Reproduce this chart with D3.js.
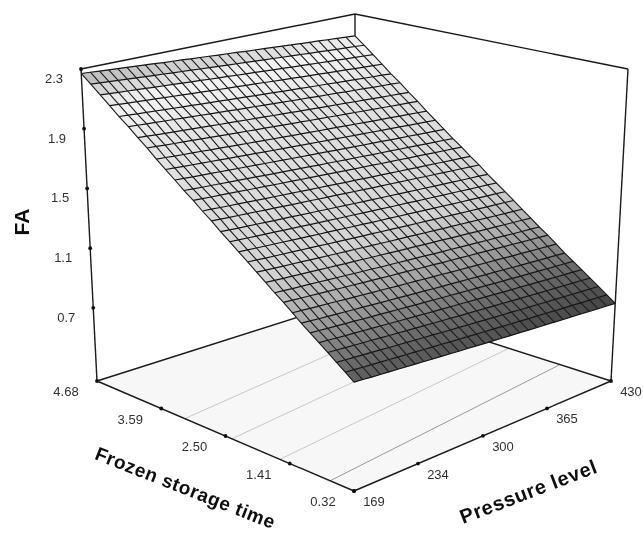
<!DOCTYPE html>
<html>
<head>
<meta charset="utf-8">
<script src="https://cdn.jsdelivr.net/npm/d3@7"></script>
<style>
  html, body { margin: 0; padding: 0; background: #fff; }
  text { font-family: "Liberation Sans", Arial, sans-serif; }
</style>
</head>
<body>
<div id="chart"></div>
<script>
var svgWidth = 643;
var svgHeight = 536;

// tick labels
var faTicks = [0.7, 1.1, 1.5, 1.9, 2.3];
var timeTicks = [4.68, 3.59, 2.50, 1.41, 0.32];
var pressureTicks = [169, 234, 300, 365, 430];

// axis ranges
var faRange = [0.21, 2.3];
var timeRange = [0.32, 4.68];
var pressureRange = [169, 430];

// FA along the 169 pressure edge, from time 0.32 up to 4.68
var faByTime = [0.86, 0.90, 0.94, 0.98, 1.02, 1.06, 1.10, 1.145, 1.19, 1.23, 1.275,
  1.32, 1.365, 1.41, 1.455, 1.50, 1.55, 1.595, 1.645, 1.69, 1.74,
  1.79, 1.84, 1.895, 1.945, 2.00, 2.05, 2.105, 2.16, 2.215, 2.27];

// change of FA going from pressure 169 up to 430
var faByPressure = [0, -0.004, -0.009, -0.013, -0.017, -0.021, -0.026, -0.03, -0.034, -0.039, -0.043,
  -0.047, -0.052, -0.056, -0.06, -0.065, -0.069, -0.073, -0.078, -0.082, -0.086,
  -0.091, -0.095, -0.099, -0.104, -0.108, -0.112, -0.117, -0.121, -0.125, -0.13];

// contour lines on the floor: time where each one meets the two pressure edges
var contourTimeLow = [0.725, 1.576, 2.39, 3.19];
var contourTimeHigh = [1.19, 2.06, 2.9, 3.7];

// grey of the surface by FA
var shadeLevels = [0.73, 0.9, 1.1, 1.3, 1.9, 2.1, 2.27];
var shadeColors = ["#444444", "#666666", "#a4a4a4", "#d4d4d4", "#e4e4e4", "#f4f4f4", "#b4b4b4"];

// corners of the box on screen
var floorBox = { front: [354, 491], right: [611, 381], left: [97, 381], back: [355, 299] };
var topBox = { front: [354, 141], right: [628, 69], left: [81, 69], back: [355, 14] };

var uScale = d3.scaleLinear().domain(pressureRange).range([0, 1]);
var vScale = d3.scaleLinear().domain(timeRange).range([0, 1]);
var wScale = d3.scaleLinear().domain(faRange).range([0, 1]);
var shade = d3.scaleLinear().domain(shadeLevels).range(shadeColors).clamp(true);

function planePoint(box, u, v) {
  var near = d3.interpolate(box.front, box.right)(u);
  var far = d3.interpolate(box.left, box.back)(u);
  return d3.interpolate(near, far)(v);
}

// pressure, time, FA to screen
function project(p, t, fa) {
  var u = uScale(p), v = vScale(t);
  return d3.interpolate(planePoint(floorBox, u, v), planePoint(topBox, u, v))(wScale(fa));
}

var pressureAt = d3.scaleLinear().domain([0, faByPressure.length - 1]).range(pressureRange);
var timeAt = d3.scaleLinear().domain([0, faByTime.length - 1]).range(timeRange);

function surfacePoint(i, j) {
  return project(pressureAt(j), timeAt(i), faByTime[i] + faByPressure[j]);
}

function cellShade(d) {
  return shade((faByTime[d.i] + faByTime[d.i + 1]) / 2 + (faByPressure[d.j] + faByPressure[d.j + 1]) / 2);
}

var svg = d3.select("#chart")
  .append("svg")
  .attr("width", svgWidth)
  .attr("height", svgHeight)
  .style("display", "block");

var soft = svg.append("defs").append("filter").attr("id", "soft");
soft.append("feGaussianBlur").attr("stdDeviation", 0.3);

var chartGroup = svg.append("g").attr("filter", "url(#soft)");
var line = d3.line();

// floor
chartGroup.append("path")
  .attr("d", line([floorBox.left, floorBox.front, floorBox.right, floorBox.back]) + "Z")
  .attr("fill", "#f7f7f7");

chartGroup.selectAll(".contour")
  .data(d3.range(contourTimeLow.length))
  .enter()
  .append("path")
  .attr("class", "contour")
  .attr("d", k => line([
    project(pressureRange[0], contourTimeLow[k], faRange[0]),
    project(pressureRange[1], contourTimeHigh[k], faRange[0])
  ]))
  .attr("fill", "none")
  .attr("stroke", k => k == 0 ? "#999999" : "#c6c6c6")
  .attr("stroke-width", 1);

// box edges
var boxEdges = [
  [floorBox.left, floorBox.back],
  [floorBox.back, floorBox.right],
  [floorBox.left, floorBox.front],
  [floorBox.front, floorBox.right],
  [floorBox.left, topBox.left],
  [floorBox.right, topBox.right],
  [floorBox.back, topBox.back],
  [topBox.left, topBox.back],
  [topBox.back, topBox.right]
];

chartGroup.selectAll(".edge")
  .data(boxEdges)
  .enter()
  .append("path")
  .attr("class", "edge")
  .attr("d", d => line(d))
  .attr("fill", "none")
  .attr("stroke", "#1a1a1a")
  .attr("stroke-width", 1.4);

// surface cells
var cells = [];
d3.range(faByTime.length - 1).forEach(function(i) {
  d3.range(faByPressure.length - 1).forEach(function(j) {
    cells.push({ i: i, j: j });
  });
});

chartGroup.selectAll(".cell")
  .data(cells)
  .enter()
  .append("path")
  .attr("class", "cell")
  .attr("d", d => line([
    surfacePoint(d.i, d.j),
    surfacePoint(d.i, d.j + 1),
    surfacePoint(d.i + 1, d.j + 1),
    surfacePoint(d.i + 1, d.j)
  ]) + "Z")
  .attr("fill", cellShade)
  .attr("stroke", cellShade)
  .attr("stroke-width", 0.4);

// mesh, the lines along pressure are the heavier ones
chartGroup.selectAll(".rowLine")
  .data(d3.range(faByTime.length))
  .enter()
  .append("path")
  .attr("class", "rowLine")
  .attr("d", i => line(d3.range(faByPressure.length).map(j => surfacePoint(i, j))))
  .attr("fill", "none")
  .attr("stroke", "#141414")
  .attr("stroke-width", 1.2);

chartGroup.selectAll(".colLine")
  .data(d3.range(faByPressure.length))
  .enter()
  .append("path")
  .attr("class", "colLine")
  .attr("d", j => line(d3.range(faByTime.length).map(i => surfacePoint(i, j))))
  .attr("fill", "none")
  .attr("stroke", "#1c1c1c")
  .attr("stroke-width", 1.1);

// ticks and their labels
function addTicks(values, pointOf, dx, dy) {
  var group = chartGroup.append("g");
  group.selectAll("circle")
    .data(values)
    .enter()
    .append("circle")
    .attr("cx", d => pointOf(d)[0])
    .attr("cy", d => pointOf(d)[1])
    .attr("r", 1.9)
    .attr("fill", "#111");
  return group.selectAll("text")
    .data(values)
    .enter()
    .append("text")
    .attr("x", d => pointOf(d)[0] + dx)
    .attr("y", d => pointOf(d)[1] + dy)
    .attr("text-anchor", "middle")
    .attr("font-size", "13px")
    .attr("fill", "#333");
}

addTicks(faTicks, d => project(pressureRange[0], timeRange[1], d), -27, 14)
  .text(d => d.toFixed(1));

addTicks(timeTicks, d => project(pressureRange[0], d, faRange[0]), -31, 15)
  .text(d => d.toFixed(2));

addTicks(pressureTicks, d => project(d, timeRange[0], faRange[0]), 20, 15)
  .text(d => d);

// axis titles
chartGroup.append("text")
  .attr("transform", "translate(29, 222) rotate(-90)")
  .attr("text-anchor", "middle")
  .attr("font-size", "21px")
  .attr("font-weight", "bold")
  .attr("fill", "#111")
  .text("FA");

chartGroup.append("text")
  .attr("transform", "translate(183, 494) rotate(21.5)")
  .attr("text-anchor", "middle")
  .attr("font-size", "19px")
  .attr("font-weight", "bold")
  .attr("letter-spacing", "0.6px")
  .attr("fill", "#111")
  .text("Frozen storage time");

chartGroup.append("text")
  .attr("transform", "translate(531, 498) rotate(-21)")
  .attr("text-anchor", "middle")
  .attr("font-size", "20px")
  .attr("font-weight", "bold")
  .attr("letter-spacing", "0.7px")
  .attr("fill", "#111")
  .text("Pressure level");
</script>
</body>
</html>
